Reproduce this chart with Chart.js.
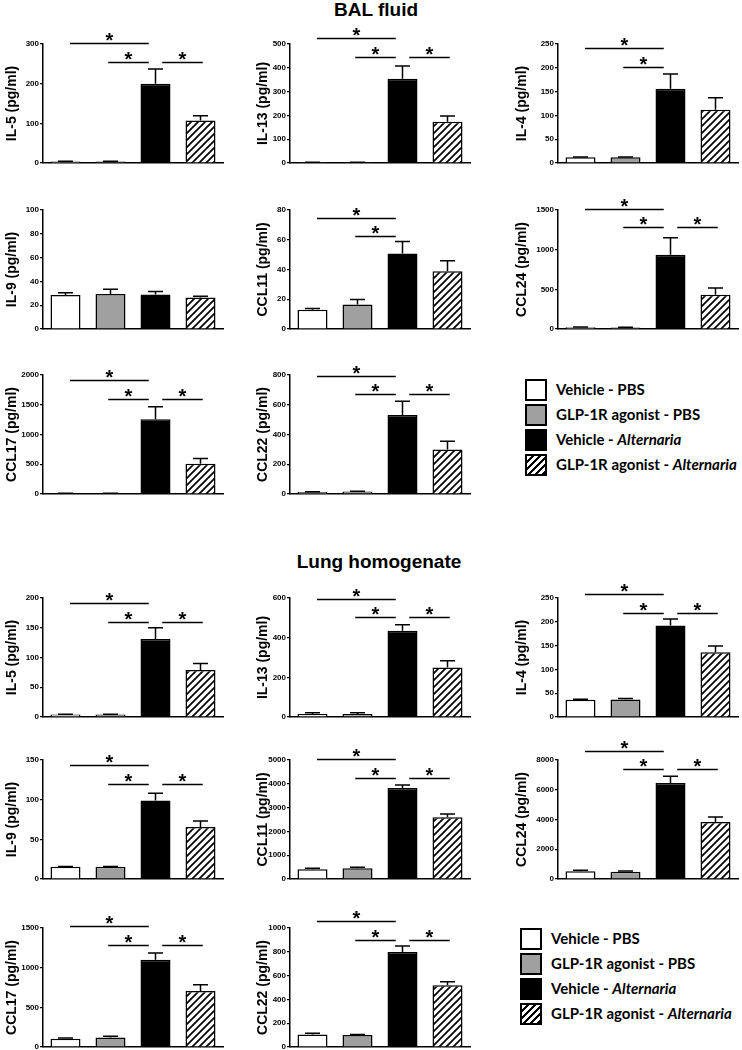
<!DOCTYPE html>
<html>
<head>
<meta charset="utf-8">
<script src="https://cdn.jsdelivr.net/npm/chart.js@4.4.1/dist/chart.umd.min.js"></script>
<style>
  html, body { margin: 0; padding: 0; background: #fff; }
  #fig { position: relative; width: 742px; height: 1050px; overflow: hidden; }
  #fig canvas { position: absolute; }
  .head { position: absolute; width: 220px; text-align: center; font: bold 19px "Liberation Sans", Arial, sans-serif; line-height: 22px; color: #000; }
  .legend { position: absolute; font: bold 15px Lato, "Open Sans", sans-serif; color: #000; }
  .legend .row { position: relative; height: 25px; line-height: 25px; }
  .legend .box { position: absolute; left: 0; top: 1px; width: 18px; height: 18px; border: 2px solid #000; }
  .legend .txt { position: absolute; left: 31px; top: -1px; white-space: nowrap; }
  .legend i { font-style: italic; }
  .b0 { background: #fff; }
  .b1 { background: #a0a0a0; }
  .b2 { background: #000; }
  .b3 { background: repeating-linear-gradient(135deg, #fff 0 3px, #000 3px 5px); }
</style>
</head>
<body>
<div id="fig">
  <div class="head" style="left:266px;top:-1px">BAL fluid</div>
  <div class="head" style="left:269px;top:551px">Lung homogenate</div>
  <div class="legend" style="left:525px;top:378px">
    <div class="row"><div class="box b0"></div><div class="txt">Vehicle - PBS</div></div>
    <div class="row"><div class="box b1"></div><div class="txt">GLP-1R agonist - PBS</div></div>
    <div class="row"><div class="box b2"></div><div class="txt">Vehicle - <i>Alternaria</i></div></div>
    <div class="row"><div class="box b3"></div><div class="txt">GLP-1R agonist - <i>Alternaria</i></div></div>
  </div>
  <div class="legend" style="left:520px;top:927px">
    <div class="row"><div class="box b0"></div><div class="txt">Vehicle - PBS</div></div>
    <div class="row"><div class="box b1"></div><div class="txt">GLP-1R agonist - PBS</div></div>
    <div class="row"><div class="box b2"></div><div class="txt">Vehicle - <i>Alternaria</i></div></div>
    <div class="row"><div class="box b3"></div><div class="txt">GLP-1R agonist - <i>Alternaria</i></div></div>
  </div>
</div>
<script>
const groups = ["Vehicle - PBS", "GLP-1R agonist - PBS", "Vehicle - Alternaria", "GLP-1R agonist - Alternaria"];

// BAL fluid
const balLabels = ["IL-5", "IL-13", "IL-4", "IL-9", "CCL11", "CCL24", "CCL17", "CCL22"];
const balMeans = [
  [4, 4, 200, 107],
  [3, 3, 354, 173],
  [12, 12, 156, 112],
  [28.5, 29.5, 29, 26.5],
  [13, 16.5, 50.8, 38.8],
  [22, 18, 935, 432],
  [10, 10, 1255, 510],
  [13, 16, 531, 300],
];
const balErrors = [
  [0.5, 0.5, 37, 12],
  [0.5, 0.5, 54, 25],
  [0.5, 0.5, 31, 25],
  [2, 4, 2.5, 1],
  [0.7, 3.3, 8, 7],
  [3, 5, 215, 85],
  [3, 3, 210, 85],
  [2, 2, 92, 55],
];
const balMax = [300, 500, 250, 100, 80, 1500, 2000, 800];
const balStep = [100, 100, 50, 20, 20, 500, 500, 200];
// [group a, group b, height on the panel's axis]
const balSig = [
  [[0, 2, 302], [1, 2, 255], [2, 3, 255]],
  [[0, 2, 525], [1, 2, 445], [2, 3, 445]],
  [[0, 2, 242], [1, 2, 202]],
  [],
  [[0, 2, 74.6], [1, 2, 62.4]],
  [[0, 2, 1508], [1, 2, 1284], [2, 3, 1284]],
  [[0, 2, 1916], [1, 2, 1597], [2, 3, 1597]],
  [[0, 2, 793], [1, 2, 672], [2, 3, 672]],
];

// Lung homogenate
const lungLabels = ["IL-5", "IL-13", "IL-4", "IL-9", "CCL11", "CCL24", "CCL17", "CCL22"];
const lungMeans = [
  [4, 4, 131, 79],
  [15, 15, 435, 250],
  [36, 37, 192, 136],
  [15.5, 15.5, 99, 65.5],
  [410, 450, 3820, 2590],
  [520, 490, 6450, 3830],
  [105, 120, 1100, 705],
  [105, 100, 798, 518],
];
const lungErrors = [
  [0.5, 0.7, 19, 11],
  [6, 6, 30, 33],
  [1.5, 2, 14, 13],
  [0.3, 0.3, 9, 7.5],
  [40, 45, 130, 140],
  [60, 50, 450, 340],
  [10, 15, 85, 80],
  [10, 5, 50, 30],
];
const lungMax = [200, 600, 250, 150, 5000, 8000, 1500, 1000];
const lungStep = [50, 200, 50, 50, 1000, 2000, 500, 200];
const lungSig = [
  [[0, 2, 192], [1, 2, 160], [2, 3, 160]],
  [[0, 2, 595], [1, 2, 505], [2, 3, 505]],
  [[0, 2, 258], [1, 2, 219], [2, 3, 219]],
  [[0, 2, 144], [1, 2, 120], [2, 3, 120]],
  [[0, 2, 5040], [1, 2, 4244], [2, 3, 4244]],
  [[0, 2, 8600], [1, 2, 7395], [2, 3, 7395]],
  [[0, 2, 1525], [1, 2, 1286], [2, 3, 1286]],
  [[0, 2, 1059], [1, 2, 899], [2, 3, 899]],
];

// layout of the panels
const colAxisX = [43, 290, 558];
const colTitleX = [12, 263, 522];
const rowTop = [44, 210, 375, 598, 760, 928];
const plotW = 180, plotH = 119, leftW = 48, padTop = 34, padBottom = 6, padRight = 4;
const bracketSpan = { "0-2": [0.1, 1.85], "1-2": [0.95, 1.85], "2-3": [2.15, 3.05] };

Chart.defaults.font.family = "'Liberation Sans', Arial, sans-serif";
Chart.defaults.color = "#000";

function hatch() {
  const s = 7;
  const c = document.createElement("canvas");
  c.width = s;
  c.height = s;
  const g = c.getContext("2d");
  g.fillStyle = "#fff";
  g.fillRect(0, 0, s, s);
  g.strokeStyle = "#000";
  g.lineWidth = 1.7;
  g.beginPath();
  g.moveTo(0, s); g.lineTo(s, 0);
  g.moveTo(-s / 2, s / 2); g.lineTo(s / 2, -s / 2);
  g.moveTo(s / 2, s * 1.5); g.lineTo(s * 1.5, s / 2);
  g.stroke();
  return g.createPattern(c, "repeat");
}
const barFill = ["#ffffff", "#a0a0a0", "#000000", hatch()];

function marks(errors, sig) {
  return {
    id: "marks",
    afterDatasetsDraw(chart) {
      const ctx = chart.ctx;
      const xs = chart.scales.x, ys = chart.scales.y;
      const vals = chart.data.datasets[0].data;
      ctx.save();
      ctx.strokeStyle = "#000";
      ctx.lineWidth = 1.5;
      chart.getDatasetMeta(0).data.forEach((bar, i) => {
        const top = ys.getPixelForValue(vals[i] + errors[i]);
        const half = bar.width / 4;
        ctx.beginPath();
        ctx.moveTo(bar.x, bar.y);
        ctx.lineTo(bar.x, top);
        ctx.moveTo(bar.x - half, top);
        ctx.lineTo(bar.x + half, top);
        ctx.stroke();
      });
      ctx.font = "bold 20px 'Liberation Sans', Arial";
      ctx.textAlign = "center";
      ctx.textBaseline = "alphabetic";
      ctx.fillStyle = "#000";
      sig.forEach(([a, b, level]) => {
        const [from, to] = bracketSpan[a + "-" + b];
        const x1 = xs.getPixelForValue(from), x2 = xs.getPixelForValue(to);
        const y = Math.round(ys.getPixelForValue(level)) + 0.5;
        ctx.beginPath();
        ctx.moveTo(x1, y);
        ctx.lineTo(x2, y);
        ctx.stroke();
        ctx.fillText("*", (x1 + x2) / 2, y + 3);
      });
      ctx.restore();
    }
  };
}

function panel(row, col, label, means, errors, max, step, sig) {
  const canvas = document.createElement("canvas");
  canvas.width = leftW + plotW + padRight;
  canvas.height = padTop + plotH + padBottom;
  canvas.style.left = (colAxisX[col] - leftW) + "px";
  canvas.style.top = (rowTop[row] - padTop) + "px";
  document.getElementById("fig").appendChild(canvas);
  const titlePad = colTitleX[col] - (colAxisX[col] - leftW) - 8.4;
  new Chart(canvas, {
    type: "bar",
    data: {
      labels: groups,
      datasets: [{
        data: means,
        backgroundColor: barFill,
        borderColor: "#000",
        borderWidth: 1.5,
        barPercentage: 0.667,
        categoryPercentage: 1,
      }],
    },
    options: {
      responsive: false,
      animation: false,
      devicePixelRatio: 1,
      layout: { padding: { top: padTop, right: padRight, bottom: padBottom, left: 0 } },
      plugins: { legend: { display: false }, tooltip: { enabled: false } },
      scales: {
        x: {
          grid: { display: false },
          ticks: { display: false },
          border: { color: "#000", width: 1.5 },
          afterFit: (s) => { s.height = 0; },
        },
        y: {
          min: 0,
          max: max,
          ticks: {
            stepSize: step,
            font: { size: 8, weight: "bold" },
            color: "#000",
            padding: 1,
            callback: (v) => String(v),
          },
          grid: { drawOnChartArea: false, drawTicks: true, tickLength: 3, color: "#000", lineWidth: 1.2 },
          border: { color: "#000", width: 1.5 },
          title: {
            display: true,
            text: label + " (pg/ml)",
            font: { size: 14, weight: "bold" },
            color: "#000",
            padding: { top: titlePad, bottom: 0 },
          },
          afterFit: (s) => { s.width = leftW; },
        },
      },
    },
    plugins: [marks(errors, sig)],
  });
}

balLabels.forEach((name, i) => {
  panel(Math.floor(i / 3), i % 3, name, balMeans[i], balErrors[i], balMax[i], balStep[i], balSig[i]);
});
lungLabels.forEach((name, i) => {
  panel(3 + Math.floor(i / 3), i % 3, name, lungMeans[i], lungErrors[i], lungMax[i], lungStep[i], lungSig[i]);
});
</script>
</body>
</html>
